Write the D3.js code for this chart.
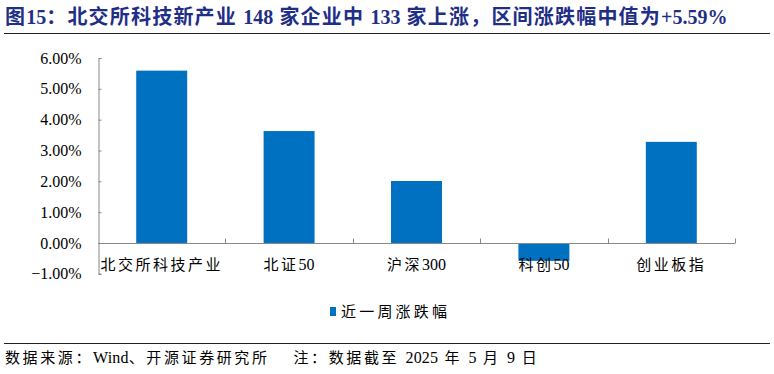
<!DOCTYPE html>
<html><head><meta charset="utf-8">
<script src="https://cdn.jsdelivr.net/npm/d3@7"></script>
<style>body{margin:0;background:#fff;}svg{display:block;}</style>
</head><body>
<script>
const categories = ["北交所科技产业","北证50","沪深300","科创50","创业板指"];
const weeklyChange = [5.59, 3.63, 2.01, -0.58, 3.28];
const yTicks = [-1, 0, 1, 2, 3, 4, 5, 6];
const seriesName = "近一周涨跌幅";
const titleText = "图15：北交所科技新产业 148 家企业中 133 家上涨，区间涨跌幅中值为+5.59%";
const footerText = "数据来源：Wind、开源证券研究所　 注：数据截至 2025 年 5 月 9 日";

const W = 774, H = 374;
const svg = d3.select("body").append("svg").attr("width", W).attr("height", H);
const serif = "'Liberation Serif','Noto Sans CJK SC',serif";

// split text into CJK / latin runs, so letter spacing applies to CJK glyphs only
function runs(str) {
  const out = [];
  for (const ch of str) {
    const latin = /[A-Za-z0-9.+%]/.test(ch);
    if (out.length && out[out.length - 1].latin === latin) out[out.length - 1].t += ch;
    else out.push({ t: ch, latin });
  }
  return out;
}
function spaced(sel, str, cjkSpacing, latinSpacing, latinSize) {
  sel.selectAll("tspan").data(runs(str)).join("tspan")
    .attr("letter-spacing", d => d.latin ? latinSpacing : cjkSpacing)
    .attr("font-size", d => d.latin && latinSize ? latinSize : null)
    .text(d => d.t);
  return sel;
}

const title = svg.append("text").attr("x", 5).attr("y", 24)
  .attr("font-family", serif).attr("font-weight", "bold").attr("font-size", 20)
  .attr("fill", "#1f2f86");
spaced(title, titleText, 1.2, 0);
svg.append("line").attr("x1", 4).attr("x2", 770).attr("y1", 33.5).attr("y2", 33.5)
  .attr("stroke", "#222").attr("stroke-width", 1);

const x = d3.scaleBand().domain(categories).range([98, 735]).paddingInner(0).paddingOuter(0);
const y = d3.scaleLinear().domain([-1, 6]).range([273.8, 58]);

// y axis
const yAxis = d3.axisLeft(y).tickValues(yTicks).tickFormat(d => d3.format(".2f")(d) + "%").tickSize(-3).tickPadding(17);
const gy = svg.append("g").attr("transform", "translate(98.5,0)").call(yAxis);
gy.select(".domain").attr("stroke", "#888");
gy.selectAll(".tick line").attr("stroke", "#888");
gy.selectAll("text").attr("font-family", serif).attr("font-size", 16).attr("fill", "#000");

// bars
svg.append("g").selectAll("rect").data(weeklyChange).join("rect")
  .attr("x", (d, i) => x(categories[i]) + x.bandwidth() * 0.3)
  .attr("width", x.bandwidth() * 0.4)
  .attr("y", d => y(Math.max(0, d)))
  .attr("height", d => Math.abs(y(d) - y(0)))
  .attr("fill", "#0070c0");

// x axis at zero
const y0 = Math.round(y(0)) + 0.5;
svg.append("line").attr("x1", 98).attr("x2", 735).attr("y1", y0).attr("y2", y0).attr("stroke", "#888").attr("stroke-width", 1.2);
const bounds = categories.map(c => x(c) + x.bandwidth());
svg.append("g").selectAll("line").data(bounds).join("line")
  .attr("x1", d => Math.round(d) + 0.5).attr("x2", d => Math.round(d) + 0.5)
  .attr("y1", y0).attr("y2", y0 - 5).attr("stroke", "#888");

svg.append("g").selectAll("text").data(categories).join("text")
  .attr("x", d => x(d) + x.bandwidth() / 2).attr("y", 270)
  .attr("text-anchor", "middle").attr("font-family", serif).attr("font-size", 15)
  .attr("fill", "#000")
  .each(function (d) { spaced(d3.select(this), d, 2.5, 0, 16); });

// legend
svg.append("rect").attr("x", 330).attr("y", 307).attr("width", 6).attr("height", 9).attr("fill", "#0070c0");
svg.append("text").attr("x", 341).attr("y", 317).attr("font-family", serif).attr("font-size", 15)
  .attr("textLength", 106).attr("lengthAdjust", "spacing").attr("fill", "#000").text(seriesName);

// footer
svg.append("line").attr("x1", 4).attr("x2", 770).attr("y1", 343.5).attr("y2", 343.5).attr("stroke", "#222");
const foot = svg.append("text").attr("x", 5).attr("y", 363).attr("font-family", serif).attr("font-size", 15)
  .attr("fill", "#000");
spaced(foot, footerText, 2.6, 0.2, 16);
</script>
</body></html>
